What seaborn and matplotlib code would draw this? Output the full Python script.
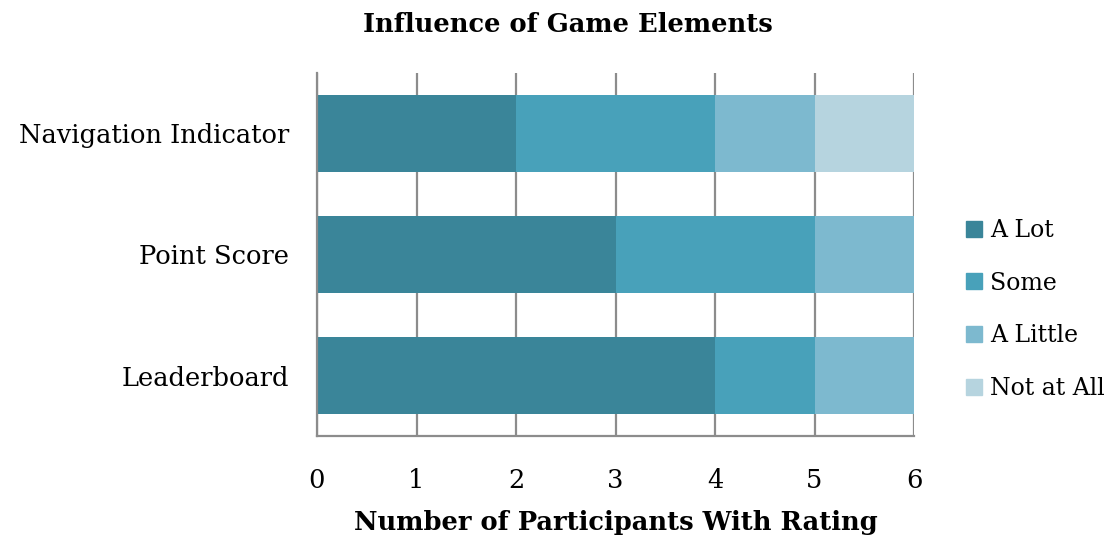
import matplotlib.pyplot as plt
import pandas as pd
import seaborn as sns

sns.set_theme(style='white')
plt.rcParams['font.family'] = ['DejaVu Serif']
plt.rcParams['text.color'] = 'black'
plt.rcParams['axes.labelcolor'] = 'black'

elements = ['Navigation Indicator', 'Point Score', 'Leaderboard']
ratings = ['A Lot', 'Some', 'A Little', 'Not at All']
a_lot = [2, 3, 4]
some = [2, 2, 1]
a_little = [1, 1, 1]
not_at_all = [1, 0, 0]
colors = ['#3A8599', '#48A1BA', '#7DB9CF', '#B6D4DF']

df = pd.DataFrame({'element': elements, 'A Lot': a_lot, 'Some': some,
                   'A Little': a_little, 'Not at All': not_at_all})

fig = plt.figure(figsize=(11.2, 5.39), dpi=100)
ax = fig.add_axes([317 / 1120, 1 - 436 / 539, (914 - 317) / 1120, (436 - 73) / 539])

# stacked bars: draw cumulative totals, widest first
cum = df[ratings].cumsum(axis=1)
for rating, color in reversed(list(zip(ratings, colors))):
    sns.barplot(x=cum[rating], y=df['element'], orient='h', color=color,
                width=0.64, saturation=1, linewidth=0, ax=ax, zorder=2)

ax.set_xlim(0, 6)
ax.set_ylim(2.5, -0.5)
ax.set_xticks(range(7))
ax.grid(axis='x', color='#8c8c8c', linewidth=1.6, zorder=0)
ax.set_axisbelow(True)
for side in ['top', 'right']:
    ax.spines[side].set_visible(False)
for side in ['left', 'bottom']:
    ax.spines[side].set_color('#8c8c8c')
    ax.spines[side].set_linewidth(1.6)
ax.tick_params(axis='x', length=0, pad=23, labelsize=18.5, colors='black')
ax.tick_params(axis='y', length=0, pad=20, labelsize=18.5, colors='black')
ax.set_ylabel('')
ax.set_xlabel('Number of Participants With Rating', fontsize=18.5, fontweight='bold', labelpad=12)

fig.text(568 / 1120, 1 - 25 / 539, 'Influence of Game Elements', ha='center', va='center',
         fontsize=18.5, fontweight='bold')

handles = [plt.Line2D([], [], marker='s', linestyle='', markersize=12, color=c) for c in colors]
fig.legend(handles, ratings, loc='center left', bbox_to_anchor=(0.852, 1 - 309.5 / 539),
           frameon=False, fontsize=17, handlelength=0.7, handletextpad=0.3, labelspacing=1.25,
           borderpad=0)

fig.savefig('out.png', dpi=100)
